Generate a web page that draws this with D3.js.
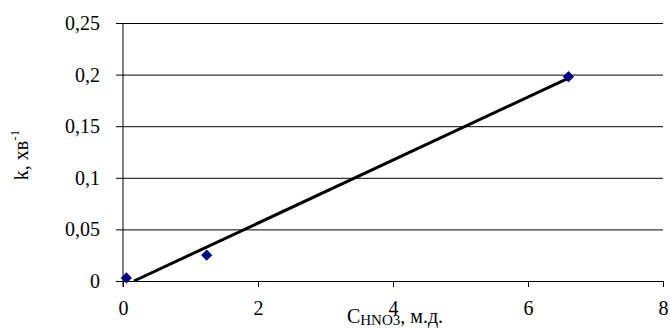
<!DOCTYPE html>
<html>
<head>
<meta charset="utf-8">
<script src="https://cdn.jsdelivr.net/npm/d3@7"></script>
<style>
  body { margin: 0; background: #fff; }
</style>
</head>
<body>
<div id="chart"></div>
<script>
// Measured points (C HNO3 vs k)
const concentration = [0.05, 1.24, 6.6];
const rateConst = [0.003, 0.025, 0.198];
const xTicks = [0, 2, 4, 6, 8];
const yTicks = [0, 0.05, 0.1, 0.15, 0.2, 0.25];

const serif = "'Liberation Serif', 'Times New Roman', Times, serif";

const width = 670;
const height = 329;
const margin = { top: 23, right: 7, bottom: 48, left: 123 };

const svg = d3.select('#chart')
  .append('svg')
  .attr('width', width)
  .attr('height', height)
  .style('font-family', serif);

const x = d3.scaleLinear().domain([0, 8]).range([margin.left, width - margin.right]);
const y = d3.scaleLinear().domain([0, 0.25]).range([height - margin.bottom, margin.top]);

const fmt = (d) => String(d).replace('.', ',');

// Horizontal gridlines with small ticks on the left
const yAxis = svg.append('g')
  .attr('transform', `translate(${width - margin.right},0)`)
  .call(d3.axisLeft(y)
    .tickValues(yTicks)
    .tickSize(width - margin.right - margin.left + 7)
    .tickPadding(16)
    .tickFormat(fmt))
  .attr('font-family', serif);
yAxis.select('.domain').remove();
yAxis.selectAll('.tick line').attr('stroke', '#000').attr('stroke-width', 1);
yAxis.selectAll('.tick text')
  .attr('font-size', 20)
  .attr('fill', '#000');

// X axis
const xAxis = svg.append('g')
  .attr('transform', `translate(0,${y(0)})`)
  .call(d3.axisBottom(x)
    .tickValues(xTicks)
    .tickSize(6)
    .tickSizeOuter(0)
    .tickPadding(14)
    .tickFormat(fmt))
  .attr('font-family', serif);
xAxis.select('.domain').attr('stroke', '#000');
xAxis.selectAll('.tick line').attr('stroke', '#000');
xAxis.selectAll('.tick text').attr('font-size', 20).attr('fill', '#000');

// Vertical axis line
svg.append('line')
  .attr('x1', x(0)).attr('x2', x(0))
  .attr('y1', y(0.25)).attr('y2', y(0) + 6)
  .attr('stroke', '#000');

// Linear trendline (least squares), clipped at k = 0
const mx = d3.mean(concentration);
const my = d3.mean(rateConst);
const sxy = d3.sum(concentration, (c, i) => (c - mx) * (rateConst[i] - my));
const sxx = d3.sum(concentration, (c) => (c - mx) ** 2);
const slope = sxy / sxx;
const intercept = my - slope * mx;
const xStart = Math.max(d3.min(concentration), -intercept / slope);
const xEnd = d3.max(concentration);

svg.append('line')
  .attr('x1', x(xStart)).attr('y1', y(slope * xStart + intercept))
  .attr('x2', x(xEnd)).attr('y2', y(slope * xEnd + intercept))
  .attr('stroke', '#000')
  .attr('stroke-width', 3);

// Diamond markers
svg.append('g')
  .selectAll('path')
  .data(concentration)
  .enter()
  .append('path')
  .attr('d', d3.symbol().type(d3.symbolDiamond2).size(80))
  .attr('transform', (d, i) => `translate(${x(d)},${y(rateConst[i])})`)
  .attr('fill', '#000080');

// X axis title
const xTitle = svg.append('text')
  .attr('x', 395)
  .attr('y', 323)
  .attr('text-anchor', 'middle')
  .attr('font-size', 20)
  .attr('fill', '#000');
xTitle.append('tspan').text('C');
xTitle.append('tspan').attr('font-size', 15).attr('dy', 2).text('HNO3');
xTitle.append('tspan').attr('dy', -2).text(', м.д.');

// Y axis title
const yTitle = svg.append('text')
  .attr('transform', 'translate(28,155) rotate(-90)')
  .attr('text-anchor', 'middle')
  .attr('font-size', 20)
  .attr('fill', '#000');
yTitle.append('tspan').text('k, хв');
yTitle.append('tspan').attr('font-size', 13).attr('dy', -9).text('-1');
</script>
</body>
</html>
